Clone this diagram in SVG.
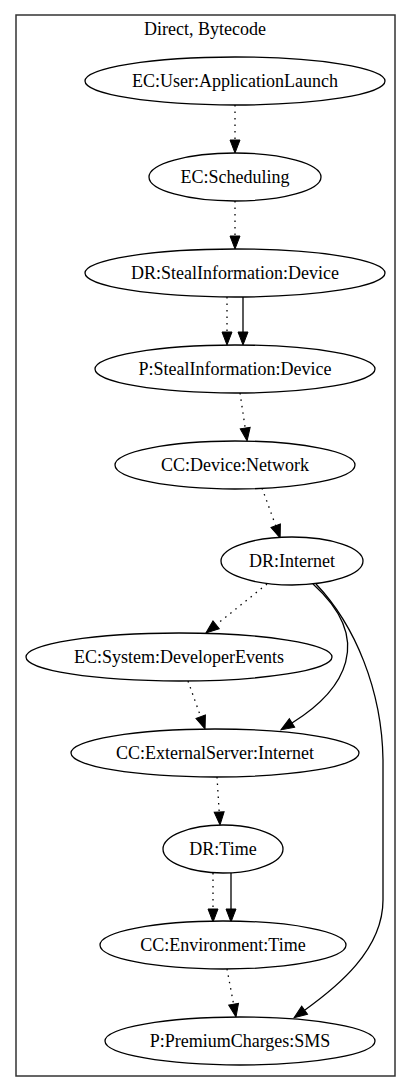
<svg xmlns="http://www.w3.org/2000/svg" width="411" height="1092" viewBox="0 0 411 1092">
<style>
text{font-family:"Liberation Serif","Times New Roman",serif;font-size:18px;fill:#000;text-anchor:middle}
.n ellipse{fill:#fff;stroke:#000;stroke-width:1.3}
.e path{fill:none;stroke:#000;stroke-width:1.3}
.e path.d{stroke-dasharray:1.5,5}
</style>
<defs>
<marker id="ah" markerUnits="userSpaceOnUse" markerWidth="14" markerHeight="11" refX="0" refY="5" orient="auto" overflow="visible">
<path d="M0,0 L13,5 L0,10 Z" fill="#000" stroke="#000" stroke-width="1"/>
</marker>
</defs>
<rect x="0" y="0" width="411" height="1092" fill="#fff"/>
<g id="cluster">
<rect x="16" y="15" width="379" height="1061" fill="none" stroke="#333" stroke-width="1.5"/>
<text x="205" y="35">Direct, Bytecode</text>
</g>
<g id="edges" class="e">
<path class="d" d="M235,105 L235,140" marker-end="url(#ah)"/>
<path class="d" d="M235,201 L235,236" marker-end="url(#ah)"/>
<path class="d" d="M227,297 L227,332" marker-end="url(#ah)"/>
<path d="M243,297 L243,332" marker-end="url(#ah)"/>
<path class="d" d="M240,393 L245.2,428.1" marker-end="url(#ah)"/>
<path class="d" d="M262,488 L275.7,525.7" marker-end="url(#ah)"/>
<path class="d" d="M267,584 L216.1,624.8" marker-end="url(#ah)"/>
<path class="d" d="M188,681 L200.7,716.7" marker-end="url(#ah)"/>
<path d="M313,584 C375,640 345,690 292,723" marker-end="url(#ah)"/>
<path d="M316,584 C355,625 382,690 383,760 L383,900 C383,950 337,987 304.6,1010.2" marker-end="url(#ah)"/>
<path class="d" d="M217,777 L219.2,812" marker-end="url(#ah)"/>
<path class="d" d="M213,873 L213,909" marker-end="url(#ah)"/>
<path d="M231,873 L231,909" marker-end="url(#ah)"/>
<path class="d" d="M227,969 L233.6,1004.2" marker-end="url(#ah)"/>
</g>
<g id="n1" class="n"><ellipse cx="235" cy="81" rx="150" ry="24"/><text x="235" y="87">EC:User:ApplicationLaunch</text></g>
<g id="n2" class="n"><ellipse cx="235" cy="177" rx="86" ry="24"/><text x="235" y="183">EC:Scheduling</text></g>
<g id="n3" class="n"><ellipse cx="235" cy="273" rx="150" ry="24"/><text x="235" y="279">DR:StealInformation:Device</text></g>
<g id="n4" class="n"><ellipse cx="235" cy="369" rx="140" ry="24"/><text x="235" y="375">P:StealInformation:Device</text></g>
<g id="n5" class="n"><ellipse cx="235" cy="465" rx="120" ry="24"/><text x="235" y="471">CC:Device:Network</text></g>
<g id="n6" class="n"><ellipse cx="292" cy="561" rx="71" ry="24"/><text x="292" y="567">DR:Internet</text></g>
<g id="n7" class="n"><ellipse cx="179" cy="657" rx="153" ry="24"/><text x="179" y="663">EC:System:DeveloperEvents</text></g>
<g id="n8" class="n"><ellipse cx="215" cy="753" rx="144" ry="24"/><text x="215" y="759">CC:ExternalServer:Internet</text></g>
<g id="n9" class="n"><ellipse cx="223" cy="849" rx="60" ry="24"/><text x="223" y="855">DR:Time</text></g>
<g id="n10" class="n"><ellipse cx="223" cy="945" rx="123" ry="24"/><text x="223" y="951">CC:Environment:Time</text></g>
<g id="n11" class="n"><ellipse cx="240" cy="1041" rx="135" ry="24"/><text x="240" y="1047">P:PremiumCharges:SMS</text></g>
</svg>
